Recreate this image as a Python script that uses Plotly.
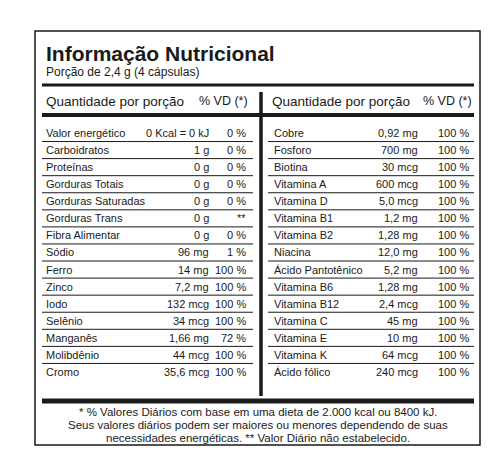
import plotly.graph_objects as go

left_names = ["Valor energético", "Carboidratos", "Proteínas", "Gorduras Totais",
              "Gorduras Saturadas", "Gorduras Trans", "Fibra Alimentar", "Sódio",
              "Ferro", "Zinco", "Iodo", "Selênio", "Manganês", "Molibdênio", "Cromo"]
left_amounts = ["0 Kcal = 0 kJ", "1 g", "0 g", "0 g", "0 g", "0 g", "0 g", "96 mg",
                "14 mg", "7,2 mg", "132 mcg", "34 mcg", "1,66 mg", "44 mcg", "35,6 mcg"]
left_vd = ["0 %", "0 %", "0 %", "0 %", "0 %", "**", "0 %", "1 %",
           "100 %", "100 %", "100 %", "100 %", "72 %", "100 %", "100 %"]

right_names = ["Cobre", "Fosforo", "Biotina", "Vitamina A", "Vitamina D", "Vitamina B1",
               "Vitamina B2", "Niacina", "Ácido Pantotênico", "Vitamina B6", "Vitamina B12",
               "Vitamina C", "Vitamina E", "Vitamina K", "Ácido fólico"]
right_amounts = ["0,92 mg", "700 mg", "30 mcg", "600 mcg", "5,0 mcg", "1,2 mg", "1,28 mg",
                 "12,0 mg", "5,2 mg", "1,28 mg", "2,4 mcg", "45 mg", "10 mg", "64 mcg", "240 mcg"]
right_vd = ["100 %"] * 15

title = "Informação Nutricional"
subtitle = "Porção de 2,4 g (4 cápsulas)"
header = ["Quantidade por porção", "% VD (*)"]
footnote = ["* % Valores Diários com base em uma dieta de 2.000 kcal ou 8400 kJ.",
            "Seus valores diários podem ser maiores ou menores dependendo de suas",
            "necessidades energéticas. ** Valor Diário não estabelecido."]

FONT = "Liberation Sans Narrow, Arial Narrow, Liberation Sans, Arial"
BLACK = "#1a1a1a"

fig = go.Figure()
shapes = []
ann = []


def line(x0, y0, x1, y1, w):
    shapes.append(dict(type="line", x0=x0, y0=y0, x1=x1, y1=y1,
                       line=dict(color=BLACK, width=w)))


def text(x, y, s, size=11, anchor="left", bold=False):
    ann.append(dict(x=x, y=y, text=f"<b>{s}</b>" if bold else s, showarrow=False,
                    xanchor=anchor, yanchor="middle",
                    font=dict(family=FONT, size=size, color=BLACK)))


# outer frame and big rules
shapes.append(dict(type="rect", x0=27, y0=23, x1=472, y1=437,
                   line=dict(color=BLACK, width=1.5)))
line(34, 77, 466, 77, 3)
line(34, 107, 466, 107, 4)
line(34, 393, 466, 393, 5)
line(253, 84, 253, 388, 3.5)

text(36, 45, title, size=21, bold=True)
text(36, 64, subtitle, size=12)
text(36, 93, header[0], size=13.5)
text(242, 93, header[1], size=12.5, anchor="right")
text(262, 93, header[0], size=13.5)
text(466, 93, header[1], size=12.5, anchor="right")

y0, dy = 125, 17.07
for i in range(len(left_names)):
    y = y0 + i * dy
    text(36, y, left_names[i])
    text(203, y, left_amounts[i], anchor="right")
    text(240, y, left_vd[i], anchor="right")
    text(264, y, right_names[i])
    text(412, y, right_amounts[i], anchor="right")
    text(463, y, right_vd[i], anchor="right")
    if i < len(left_names) - 1:
        yl = y + dy / 2
        line(34, yl, 245, yl, 1)
        line(260, yl, 466, yl, 1)

for j, s in enumerate(footnote):
    text(250, 404 + j * 13, s, size=11.5, anchor="center")

fig.update_layout(
    width=500, height=466, margin=dict(l=0, r=0, t=0, b=0),
    paper_bgcolor="white", plot_bgcolor="white", showlegend=False,
    xaxis=dict(range=[0, 500], visible=False, fixedrange=True),
    yaxis=dict(range=[466, 0], visible=False, fixedrange=True),
    shapes=shapes, annotations=ann,
)
fig.write_html("out.html")
